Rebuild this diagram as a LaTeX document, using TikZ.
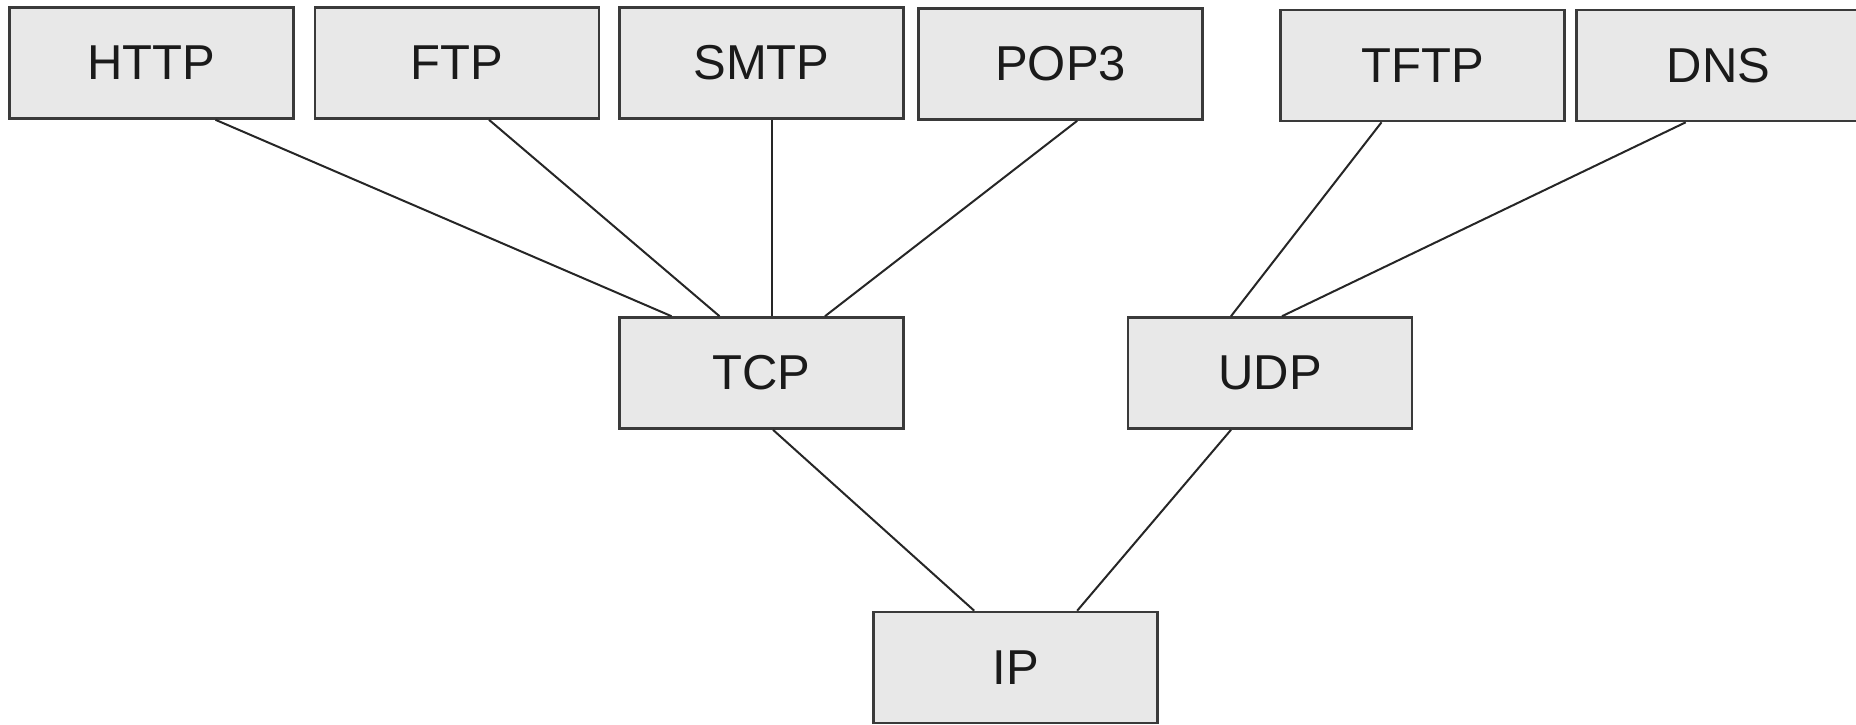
\documentclass[tikz,border=0pt]{standalone}
\usepackage{fontspec}
\setmainfont{Liberation Sans}
\usetikzlibrary{calc}
\definecolor{boxfill}{HTML}{E8E8E8}
\definecolor{boxline}{HTML}{3A3A3A}
\definecolor{textcol}{HTML}{1A1A1A}
\tikzset{
  proto/.style={draw=boxline, line width=2.6pt, fill=boxfill, rectangle,
    minimum width=284pt, minimum height=111pt, inner sep=0pt,
    text=textcol, font=\fontsize{49}{58}\selectfont},
  link/.style={draw=black!85, line width=2pt}
}
\begin{document}
\begin{tikzpicture}[x=1pt, y=-1pt]
  \useasboundingbox (0,0) rectangle (1856,724);
  % application layer
  \node[proto] (http) at (151.5,63) {HTTP};
  \node[proto] (ftp)  at (457,63)   {FTP};
  \node[proto] (smtp) at (761.5,63) {SMTP};
  \node[proto] (pop)  at (1060.6,64) {POP3};
  \node[proto] (tftp) at (1422.5,65.5) {TFTP};
  \node[proto] (dns)  at (1718.7,65.5) {DNS};
  % transport layer
  \node[proto] (tcp) at (761.5,373) {TCP};
  \node[proto] (udp) at (1270,373)  {UDP};
  % network layer
  \node[proto] (ip) at (1015.6,667.5) {IP};
  % connections
  \draw[link] ($(http.south)+(64,0)$)  -- ($(tcp.north)+(-90,0)$);
  \draw[link] ($(ftp.south)+(32,0)$)   -- ($(tcp.north)+(-42,0)$);
  \draw[link] ($(smtp.south)+(10,0)$)  -- ($(tcp.north)+(10,0)$);
  \draw[link] ($(pop.south)+(16.6,0)$) -- ($(tcp.north)+(63.5,0)$);
  \draw[link] ($(tftp.south)+(-41,0)$) -- ($(udp.north)+(-39,0)$);
  \draw[link] ($(dns.south)+(-33,0)$)  -- ($(udp.north)+(12,0)$);
  \draw[link] ($(tcp.south)+(11.5,0)$) -- ($(ip.north)+(-41.4,0)$);
  \draw[link] ($(udp.south)+(-39,0)$)  -- ($(ip.north)+(61.6,0)$);
\end{tikzpicture}
\end{document}
